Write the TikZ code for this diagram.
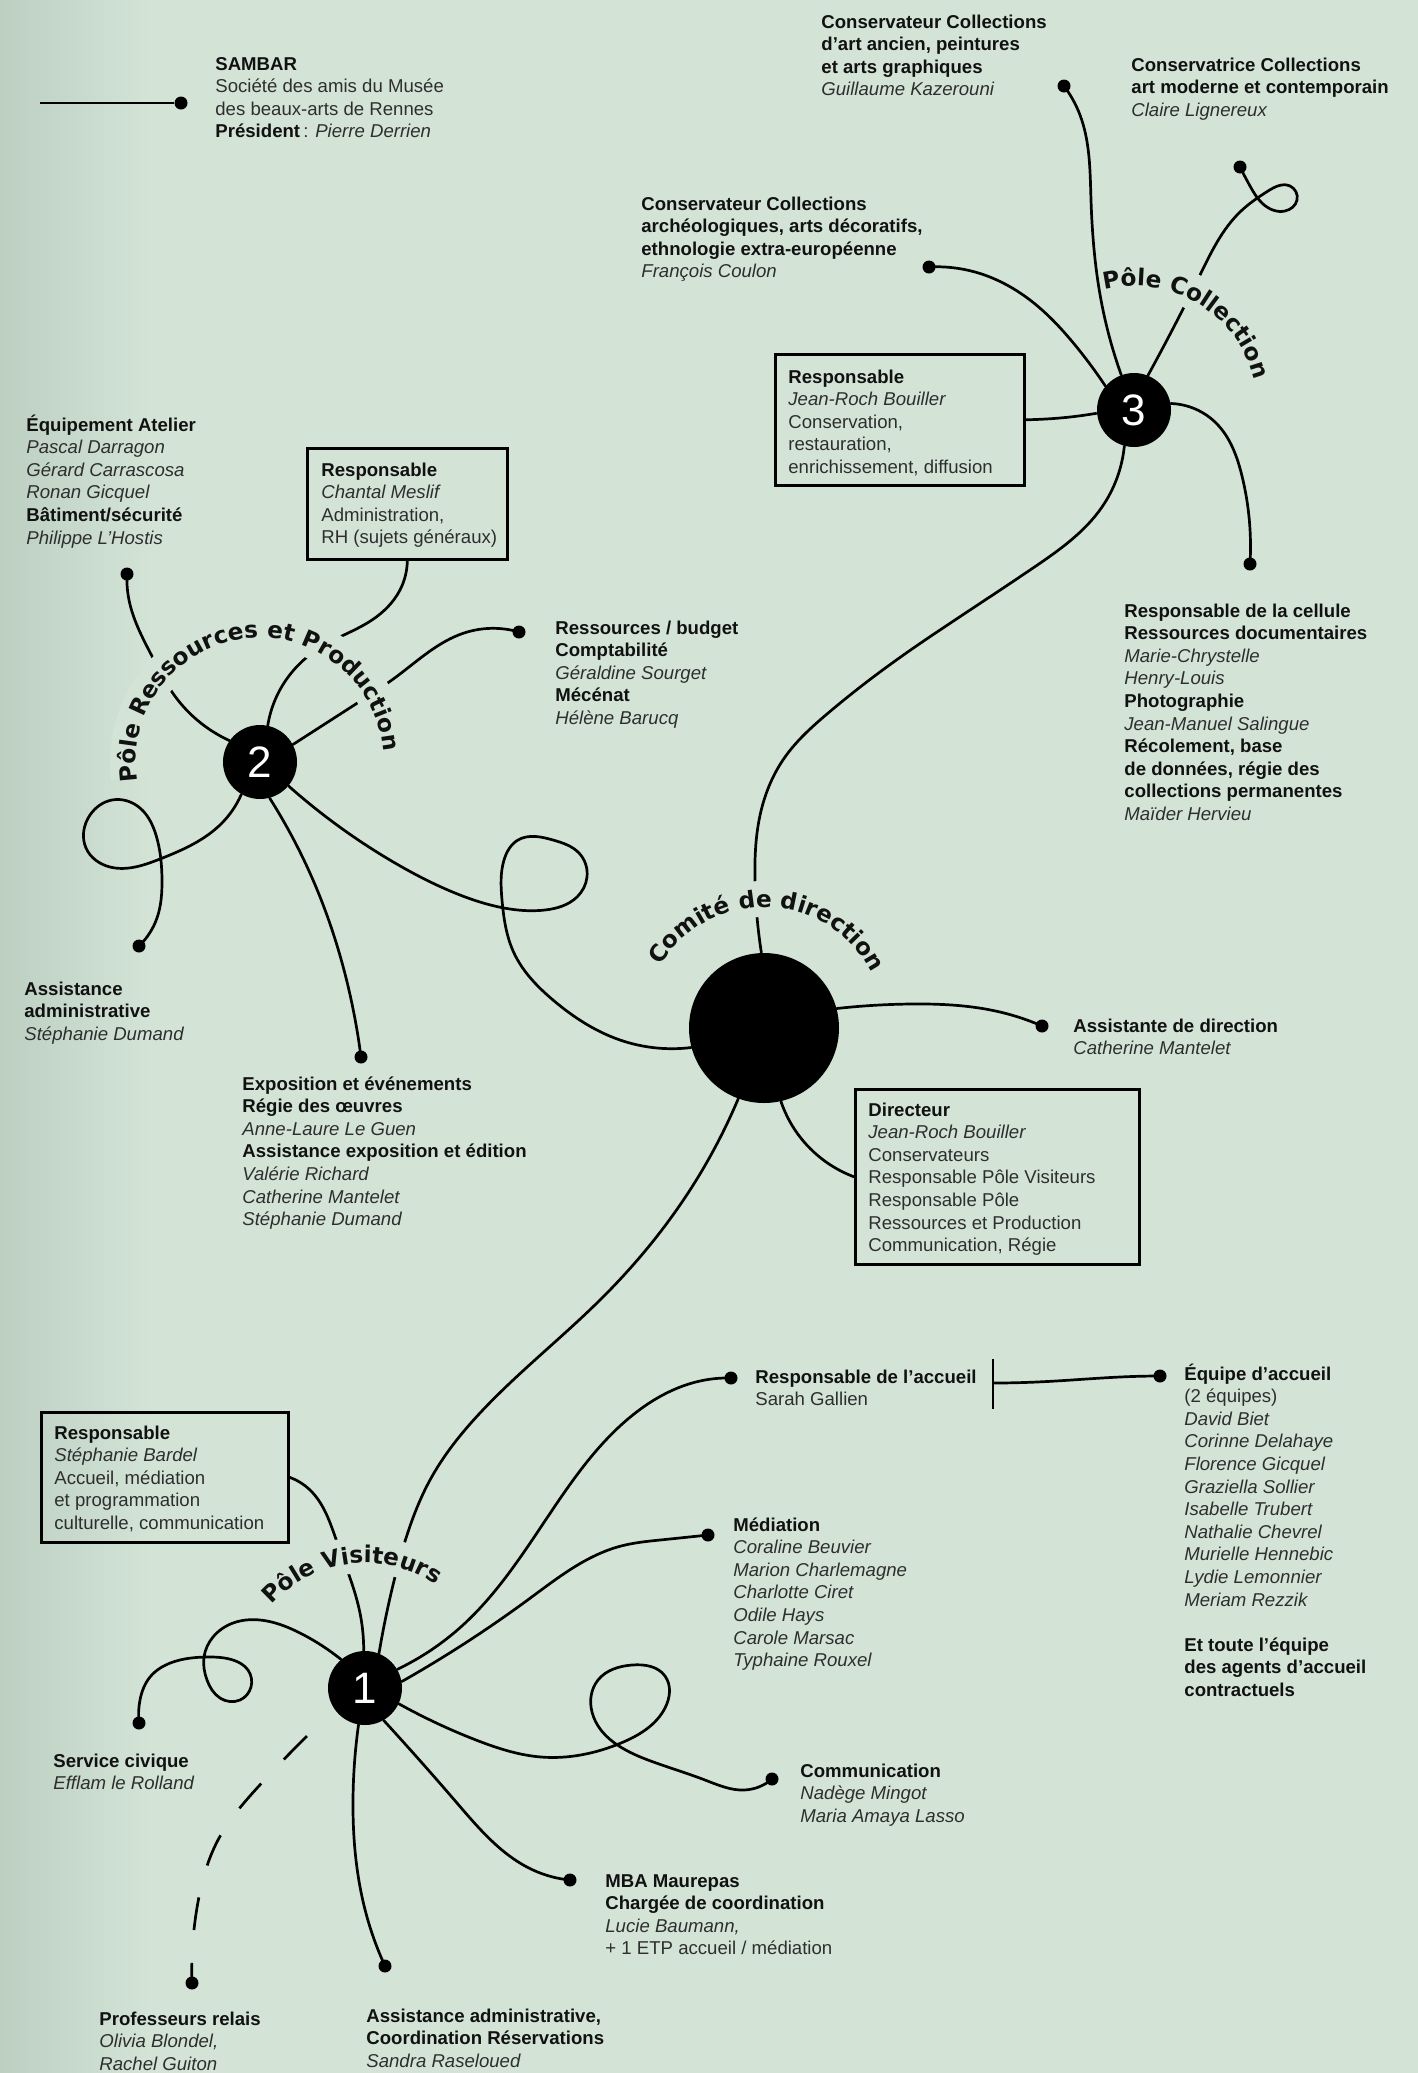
\documentclass[tikz,border=0pt]{standalone}
\usepackage{fontspec}
\setmainfont{Liberation Sans}
\newfontfamily\lblfam{DejaVu Sans}
\usetikzlibrary{decorations.text,hobby}
\definecolor{bgc}{HTML}{D3E4D7}
\definecolor{bgl}{HTML}{BCCFC1}
\definecolor{ink}{HTML}{2E2E2E}
\definecolor{inkb}{HTML}{111111}
\newcommand\blk[1]{\begin{tabular}[t]{@{}l@{}}#1\end{tabular}}
\newcommand\hd[1]{\textbf{\color{inkb}#1}}
\newcommand\nm[1]{\textit{#1}}
\newcommand\lblfont{\lblfam\bfseries\fontsize{11.6}{12}\selectfont}
\tikzset{
  ln/.style={line width=1.35pt, line cap=round, use Hobby shortcut},
  dotn/.style={circle, fill=black, inner sep=0pt, minimum size=6.5pt},
  hub/.style={circle, fill=black, inner sep=0pt, minimum size=37pt, text=white, font=\fontsize{22}{22}\selectfont},
  frame/.style={draw=black, line width=1.3pt, inner sep=0pt, anchor=north west},
  txt/.style={anchor=base west, inner sep=0pt, text=ink, font=\fontsize{9.3}{11.3}\selectfont},
  band/.style={draw=bgc, line width=18pt},
  curvlbl/.style={decorate, decoration={text along path, text align=center, text color=inkb, text={|\lblfont|#1}}}
}
\begin{document}
\begin{tikzpicture}[x=0.5pt, y=-0.5pt]
\useasboundingbox (0,0) rectangle (1418,2073);
\fill[bgc] (0,0) rectangle (1418,2073);
\fill[left color=bgl, right color=bgc] (0,0) rectangle (150,2073);

% ---------- hubs ----------
\node[hub] (c3) at (1134,410) {3};
\node[hub] (c2) at (260,762) {2};
\node[hub] (c1) at (365,1688) {1};
\node[circle, fill=black, inner sep=0pt, minimum size=75pt] (cD) at (764,1028) {};

% ---------- frames ----------
\node[frame, minimum width=124.5pt, minimum height=65.5pt] (b3) at (774,353) {};
\node[frame, minimum width=100pt, minimum height=55.5pt] (b2) at (306,447) {};
\node[frame, minimum width=142pt, minimum height=87.5pt] (bD) at (854,1088) {};
\node[frame, minimum width=123.5pt, minimum height=65pt] (b1) at (40,1411) {};

% ---------- dots ----------
\node[dotn] (sa) at (181,103) {};
\coordinate (sa0) at (40,103);
\node[dotn] (g3a) at (1064,86) {};
\node[dotn] (g3b) at (1240,167) {};
\node[dotn] (g3c) at (929,267) {};
\node[dotn] (g3d) at (1250,564) {};
\node[dotn] (g2a) at (127,574) {};
\node[dotn] (g2b) at (519,632) {};
\node[dotn] (g2c) at (139,946) {};
\node[dotn] (g2d) at (361,1057) {};
\node[dotn] (gad) at (1042,1026) {};
\node[dotn] (g1a) at (731,1378) {};
\node[dotn] (g1b) at (1160,1376) {};
\node[dotn] (g1c) at (708,1535) {};
\node[dotn] (g1d) at (772,1779) {};
\node[dotn] (g1e) at (570,1880) {};
\node[dotn] (g1f) at (385,1966) {};
\node[dotn] (g1h) at (192,1983) {};
\node[dotn] (g1g) at (139,1723) {};
\coordinate (pr0) at (307,1736);
\coordinate (tb1) at (993,1359);
\coordinate (tb2) at (993,1409);
\coordinate (tbm) at (993,1383);

% ---------- connectors ----------
\draw[line width=1.35pt] (sa0) -- (sa);
% pole 3
\draw[ln] (c3.110) .. (1101,300) .. (1091,200) .. (1080,115) .. (g3a.center);
\draw[ln] (g3c.center) .. (975,272) .. (1030,300) .. (1075,345) .. (c3.140);
\draw[ln] (c3.68) .. (1200,275) .. (1240,212) .. (1268,191) .. (1290,186) .. (1297,200) .. (1285,211) .. (1263,204) .. (1250,186) .. (g3b.center);
\draw[line width=1.35pt] (b3.east) .. controls (1060,419) and (1080,416) .. (c3.185);
\draw[ln] (c3.10) .. (1216,423) .. (1242,476) .. (g3d.center);
\draw[ln] (c3.255) .. (1102,507) .. (1033,568) .. (964,614) .. (895,661) .. (827,714) .. (785,757) .. (761,811) .. (755,880) .. (cD.92);
% pole 2
\draw[ln] (g2a.center) .. (129,600) .. (154,660) .. (172,692) .. (c2.145);
\draw[ln] (b2.south) .. (400,590) .. (372,620) .. (321,647) .. (286,680) .. (c2.78);
\draw[ln] (g2b.center) .. (464,633) .. (396,677) .. (359,702) .. (c2.28);
\draw[ln] (c2.240) .. (222,823) .. (160,859) .. (110,867) .. (86,848) .. (90,815) .. (112,800) .. (140,808) .. (156,835) .. (162,880) .. (157,918) .. (g2c.center);
\draw[ln] (c2.285) .. (316,887) .. (344,970) .. (g2d.center);
\draw[ln] (c2.320) .. (395,863) .. (455,893) .. (504,908) .. (545,910) .. (577,897) .. (587,877) .. (579,853) .. (553,840) .. (518,840) .. (504,860) .. (502,900) .. (514,953) .. (553,1000) .. (620,1040) .. (cD.195);
% direction
\draw[ln] (cD.15) .. (911,1004) .. (1000,1012) .. (gad.center);
\draw[ln] (cD.283) .. (805,1143) .. (bD.west);
\draw[ln] (cD.250) .. (690,1190) .. (600,1300) .. (480,1413) .. (430,1480) .. (407,1535) .. (393,1585) .. (c1.68);
% pole 1
\draw[ln] (b1.east) .. (310,1490) .. (337,1542) .. (360,1613) .. (c1.92);
\draw[ln] (c1.30) .. (463,1625) .. (555,1506) .. (634,1414) .. (700,1381) .. (g1a.center);
\draw[line width=1.35pt] (tb1) -- (tb2);
\draw[line width=1.35pt] (tbm) .. controls (1060,1383) and (1100,1376) .. (g1b.center);
\draw[ln] (c1.10) .. (529,1599) .. (621,1546) .. (660,1540) .. (g1c.center);
\draw[ln] (c1.-25) .. (476,1740) .. (541,1757) .. (621,1743) .. (665,1708) .. (665,1676) .. (632,1665) .. (598,1680) .. (592,1712) .. (648,1760) .. (705,1780) .. (744,1790) .. (g1d.center);
\draw[ln] (c1.-60) .. (457,1803) .. (533,1870) .. (g1e.center);
\draw[ln] (c1.-100) .. (353,1800) .. (367,1917) .. (g1f.center);
\draw[ln] (c1.130) .. (300,1633) .. (267,1621) .. (233,1623) .. (213,1637) .. (204,1657) .. (207,1680) .. (220,1698) .. (240,1700) .. (251,1687) .. (248,1670) .. (233,1660) .. (207,1657) .. (173,1662) .. (150,1677) .. (140,1700) .. (g1g.center);
\draw[ln, dash pattern=on 16.5pt off 16.5pt, line cap=butt] (pr0) .. (258,1787) .. (218,1840) .. (198,1902) .. (g1h.center);

% ---------- curved labels ----------
\begin{scope}[shift={(c3.center)}, y=0.5pt]
  \draw[band] (103:132) arc[start angle=103, end angle=12, radius=132];
  \path[curvlbl={Pôle Collection}] (149:124) arc[start angle=149, end angle=-31, radius=124];
\end{scope}
\begin{scope}[shift={(c2.center)}, y=0.5pt]
  \draw[band] (187:132) arc[start angle=187, end angle=8, radius=132];
  \path[curvlbl={Pôle Ressources et Production}] (197:124) arc[start angle=197, end angle=-3, radius=124];
\end{scope}
\begin{scope}[shift={(cD.center)}, y=0.5pt]
  \draw[band] (153:129) arc[start angle=153, end angle=23, radius=129];
  \path[curvlbl={Comité de direction}] (178:121) arc[start angle=178, end angle=-2, radius=121];
\end{scope}
\begin{scope}[shift={(c1.center)}, y=0.5pt]
  \draw[band] (142:133) arc[start angle=142, end angle=48, radius=133];
  \path[curvlbl={Pôle Visiteurs}] (187:125) arc[start angle=187, end angle=7, radius=125];
\end{scope}

% ---------- texts ----------
\node[txt] (tsa) at (215,70) {\blk{\hd{SAMBAR}\\ Société des amis du Musée\\ des beaux-arts de Rennes\\ \hd{Président}\,: \nm{Pierre Derrien}}};
\node[txt] (t3a) at (821,28) {\blk{\hd{Conservateur Collections}\\ \hd{d’art ancien, peintures}\\ \hd{et arts graphiques}\\ \nm{Guillaume Kazerouni}}};
\node[txt] (t3b) at (1131,71) {\blk{\hd{Conservatrice Collections}\\ \hd{art moderne et contemporain}\\ \nm{Claire Lignereux}}};
\node[txt] (t3c) at (641,210) {\blk{\hd{Conservateur Collections}\\ \hd{archéologiques, arts décoratifs,}\\ \hd{ethnologie extra-européenne}\\ \nm{François Coulon}}};
\node[txt] (tb3) at (788,383) {\blk{\hd{Responsable}\\ \nm{Jean-Roch Bouiller}\\ Conservation,\\ restauration,\\ enrichissement, diffusion}};
\node[txt] (t3d) at (1124,617) {\blk{\hd{Responsable de la cellule}\\ \hd{Ressources documentaires}\\ \nm{Marie-Chrystelle}\\ \nm{Henry-Louis}\\ \hd{Photographie}\\ \nm{Jean-Manuel Salingue}\\ \hd{Récolement, base}\\ \hd{de données, régie des}\\ \hd{collections permanentes}\\ \nm{Maïder Hervieu}}};
\node[txt] (t2a) at (26,431) {\blk{\hd{Équipement Atelier}\\ \nm{Pascal Darragon}\\ \nm{Gérard Carrascosa}\\ \nm{Ronan Gicquel}\\ \hd{Bâtiment/sécurité}\\ \nm{Philippe L’Hostis}}};
\node[txt] (tb2) at (321,476) {\blk{\hd{Responsable}\\ \nm{Chantal Meslif}\\ Administration,\\ RH (sujets généraux)}};
\node[txt] (t2b) at (555,634) {\blk{\hd{Ressources / budget}\\ \hd{Comptabilité}\\ \nm{Géraldine Sourget}\\ \hd{Mécénat}\\ \nm{Hélène Barucq}}};
\node[txt] (t2c) at (24,995) {\blk{\hd{Assistance}\\ \hd{administrative}\\ \nm{Stéphanie Dumand}}};
\node[txt] (t2d) at (242,1090) {\blk{\hd{Exposition et événements}\\ \hd{Régie des œuvres}\\ \nm{Anne-Laure Le Guen}\\ \hd{Assistance exposition et édition}\\ \nm{Valérie Richard}\\ \nm{Catherine Mantelet}\\ \nm{Stéphanie Dumand}}};
\node[txt] (tad) at (1073,1032) {\blk{\hd{Assistante de direction}\\ \nm{Catherine Mantelet}}};
\node[txt] (tbD) at (868,1116) {\blk{\hd{Directeur}\\ \nm{Jean-Roch Bouiller}\\ Conservateurs\\ Responsable Pôle Visiteurs\\ Responsable Pôle\\ Ressources et Production\\ Communication, Régie}};
\node[txt] (tb1) at (54,1439) {\blk{\hd{Responsable}\\ \nm{Stéphanie Bardel}\\ Accueil, médiation\\ et programmation\\ culturelle, communication}};
\node[txt] (t1a) at (755,1383) {\blk{\hd{Responsable de l’accueil}\\ Sarah Gallien}};
\node[txt] (t1b) at (1184,1380) {\blk{\hd{Équipe d’accueil}\\ (2 équipes)\\ \nm{David Biet}\\ \nm{Corinne Delahaye}\\ \nm{Florence Gicquel}\\ \nm{Graziella Sollier}\\ \nm{Isabelle Trubert}\\ \nm{Nathalie Chevrel}\\ \nm{Murielle Hennebic}\\ \nm{Lydie Lemonnier}\\ \nm{Meriam Rezzik}\\ \\ \hd{Et toute l’équipe}\\ \hd{des agents d’accueil}\\ \hd{contractuels}}};
\node[txt] (t1c) at (733,1531) {\blk{\hd{Médiation}\\ \nm{Coraline Beuvier}\\ \nm{Marion Charlemagne}\\ \nm{Charlotte Ciret}\\ \nm{Odile Hays}\\ \nm{Carole Marsac}\\ \nm{Typhaine Rouxel}}};
\node[txt] (t1g) at (53,1767) {\blk{\hd{Service civique}\\ \nm{Efflam le Rolland}}};
\node[txt] (t1d) at (800,1777) {\blk{\hd{Communication}\\ \nm{Nadège Mingot}\\ \nm{Maria Amaya Lasso}}};
\node[txt] (t1e) at (605,1887) {\blk{\hd{MBA Maurepas}\\ \hd{Chargée de coordination}\\ \nm{Lucie Baumann,}\\ + 1 ETP accueil / médiation}};
\node[txt] (t1f) at (366,2022) {\blk{\hd{Assistance administrative,}\\ \hd{Coordination Réservations}\\ \nm{Sandra Raseloued}}};
\node[txt] (t1h) at (99,2025) {\blk{\hd{Professeurs relais}\\ \nm{Olivia Blondel,}\\ \nm{Rachel Guiton}}};
\end{tikzpicture}
\end{document}
